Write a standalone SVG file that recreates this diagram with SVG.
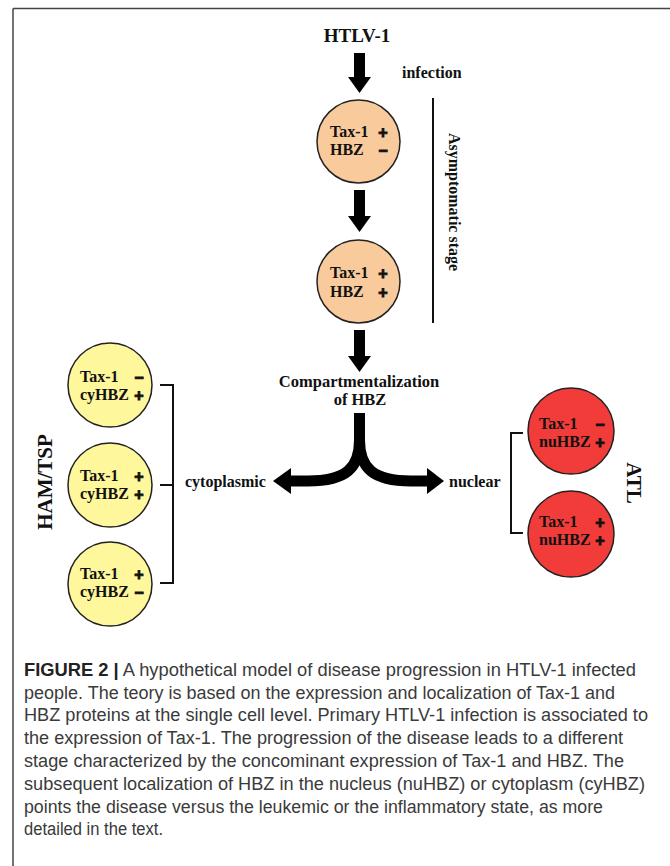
<svg xmlns="http://www.w3.org/2000/svg" width="670" height="866" viewBox="0 0 670 866">
<defs>
<style>
.lbl{font-family:"Liberation Serif","Times New Roman",serif;font-weight:bold;font-size:16px;fill:#111}
.big{font-family:"Liberation Serif","Times New Roman",serif;font-weight:bold;font-size:21px;fill:#111}
.sg{font-family:"Liberation Sans",Arial,sans-serif;font-weight:bold;font-size:16px;text-anchor:middle;stroke:#111;stroke-width:0.9}
.cap{font-family:"Liberation Sans",Arial,sans-serif;font-size:17.5px;fill:#3a3a3a}
.peach{fill:#F9CB9C;stroke:#222;stroke-width:1.5}
.yel{fill:#FFF79C;stroke:#222;stroke-width:1.5}
.red{fill:#F23C3A;stroke:#222;stroke-width:1.5}
.br{fill:none;stroke:#111;stroke-width:2}
.arr{fill:#000}
.branch{fill:none;stroke:#000;stroke-width:11}
</style>
</defs>
<rect width="670" height="866" fill="#fff"/>
<path d="M13,8.5 H670 M13,8.5 V866" fill="none" stroke="#444" stroke-width="1.5"/>

<g id="htlv">
<text class="lbl" x="357" y="42" text-anchor="middle" style="font-size:19px">HTLV-1</text>
</g>
<g id="infection-label"><text class="lbl" x="402" y="78">infection</text></g>

<g id="connectors">
<polygon class="arr" points="354,53 365,53 365,77 371,77 359.5,93 348,77 354,77"/>
<polygon class="arr" points="354,190 365,190 365,216 371,216 359.5,232 348,216 354,216"/>
<polygon class="arr" points="354,330 365,330 365,356 371,356 359.5,372 348,356 354,356"/>
<path class="branch" d="M359.5,413 V440 C359.5,468 346,481 308,481 H290"/>
<path class="branch" d="M359.5,440 C359.5,468 373,481 411,481 H428"/>
<polygon class="arr" points="291,468 273,481 291,494"/>
<polygon class="arr" points="427,468 444,481 427,494"/>
</g>

<g id="stage-bar">
<line x1="433" y1="98" x2="433" y2="323" stroke="#111" stroke-width="2"/>
<text class="lbl" transform="translate(449,202) rotate(90)" text-anchor="middle">Asymptomatic stage</text>
</g>

<g id="cell1">
<circle class="peach" cx="358.5" cy="141.5" r="41.5"/>
<text class="lbl" x="330" y="137">Tax-1<tspan class="sg" x="383" y="138">+</tspan></text>
<text class="lbl" x="330" y="155">HBZ<tspan class="sg" x="383" y="156">−</tspan></text>
</g>

<g id="cell2">
<circle class="peach" cx="358.5" cy="281.5" r="41.5"/>
<text class="lbl" x="330" y="278">Tax-1<tspan class="sg" x="383" y="279">+</tspan></text>
<text class="lbl" x="330" y="297">HBZ<tspan class="sg" x="383" y="298">+</tspan></text>
</g>

<g id="compartment">
<text class="lbl" x="359" y="387" text-anchor="middle" style="font-size:16.5px">Compartmentalization</text>
<text class="lbl" x="360" y="405" text-anchor="middle" style="font-size:16.5px">of HBZ</text>
</g>

<g id="cytoplasmic-label"><text class="lbl" x="185" y="487">cytoplasmic</text></g>
<g id="nuclear-label"><text class="lbl" x="449" y="487">nuclear</text></g>

<g id="ham-bracket">
<path class="br" d="M160,385 H173 V583 H160 M160,485 H173"/>
<text class="big" transform="translate(52,482) rotate(-90)" text-anchor="middle">HAM/TSP</text>
</g>

<g id="cy1">
<circle class="yel" cx="110" cy="385" r="42"/>
<text class="lbl" x="80" y="382">Tax-1<tspan class="sg" x="139" y="383">−</tspan></text>
<text class="lbl" x="80" y="400">cyHBZ<tspan class="sg" x="139" y="401">+</tspan></text>
</g>
<g id="cy2">
<circle class="yel" cx="110" cy="485" r="42"/>
<text class="lbl" x="80" y="481">Tax-1<tspan class="sg" x="139" y="482">+</tspan></text>
<text class="lbl" x="80" y="499">cyHBZ<tspan class="sg" x="139" y="500">+</tspan></text>
</g>
<g id="cy3">
<circle class="yel" cx="110" cy="584" r="42"/>
<text class="lbl" x="80" y="579">Tax-1<tspan class="sg" x="139" y="580">+</tspan></text>
<text class="lbl" x="80" y="597">cyHBZ<tspan class="sg" x="139" y="598">−</tspan></text>
</g>

<g id="atl-bracket">
<path class="br" d="M523,433 H511 V533 H523"/>
<text class="big" transform="translate(627,483) rotate(90)" text-anchor="middle">ATL</text>
</g>

<g id="nu1">
<circle class="red" cx="571" cy="431" r="43"/>
<text class="lbl" x="539" y="429">Tax-1<tspan class="sg" x="600" y="430">−</tspan></text>
<text class="lbl" x="539" y="447">nuHBZ<tspan class="sg" x="600" y="448">+</tspan></text>
</g>
<g id="nu2">
<circle class="red" cx="571" cy="534" r="43"/>
<text class="lbl" x="539" y="527">Tax-1<tspan class="sg" x="600" y="528">+</tspan></text>
<text class="lbl" x="539" y="545">nuHBZ<tspan class="sg" x="600" y="546">+</tspan></text>
</g>

<g id="caption">
<text class="cap" x="24" y="676" textLength="612" lengthAdjust="spacingAndGlyphs"><tspan font-weight="bold" fill="#222">FIGURE 2 |</tspan> A hypothetical model of disease progression in HTLV-1 infected</text>
<text class="cap" x="24" y="699" textLength="591" lengthAdjust="spacingAndGlyphs">people. The teory is based on the expression and localization of Tax-1 and</text>
<text class="cap" x="24" y="721" textLength="624" lengthAdjust="spacingAndGlyphs">HBZ proteins at the single cell level. Primary HTLV-1 infection is associated to</text>
<text class="cap" x="24" y="744" textLength="599" lengthAdjust="spacingAndGlyphs">the expression of Tax-1. The progression of the disease leads to a different</text>
<text class="cap" x="24" y="767" textLength="600" lengthAdjust="spacingAndGlyphs">stage characterized by the concominant expression of Tax-1 and HBZ. The</text>
<text class="cap" x="24" y="790" textLength="621" lengthAdjust="spacingAndGlyphs">subsequent localization of HBZ in the nucleus (nuHBZ) or cytoplasm (cyHBZ)</text>
<text class="cap" x="24" y="813" textLength="579" lengthAdjust="spacingAndGlyphs">points the disease versus the leukemic or the inflammatory state, as more</text>
<text class="cap" x="24" y="835" textLength="139" lengthAdjust="spacingAndGlyphs">detailed in the text.</text>
</g>
</svg>
